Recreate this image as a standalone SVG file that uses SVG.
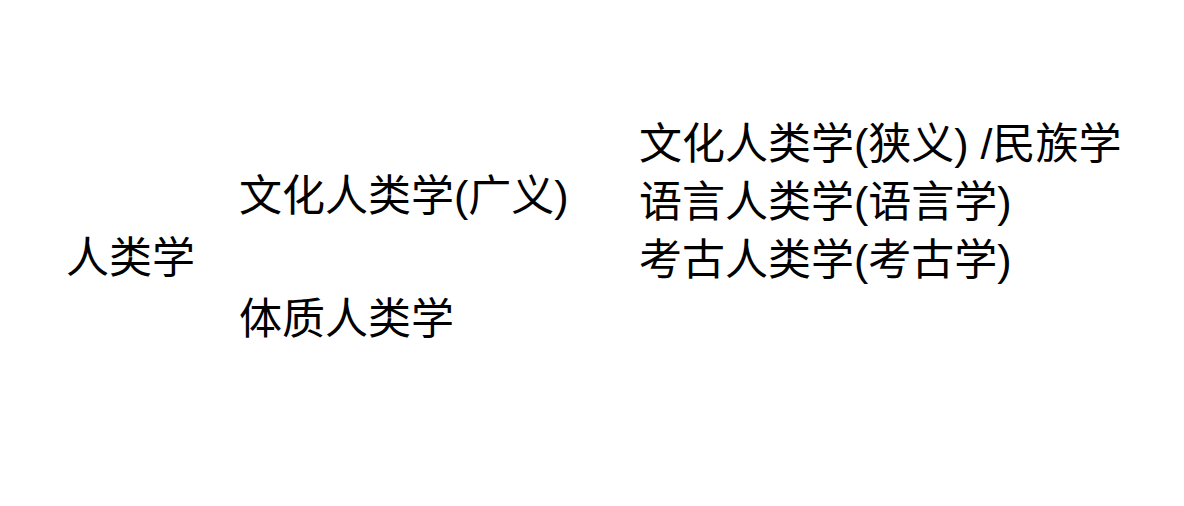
<svg xmlns="http://www.w3.org/2000/svg" width="1184" height="506" viewBox="0 0 1184 506">
<style>
.t{font-family:"Liberation Sans","Noto Sans CJK SC",sans-serif;font-size:43px;fill:#000}
</style>
<rect width="1184" height="506" fill="#fff"/>
<g id="connectors"/>
<g id="n-root"><text class="t" x="66" y="273">人类学</text></g>
<g id="n-culture"><text class="t" x="239" y="211">文化人类学(广义)</text></g>
<g id="n-physical"><text class="t" x="239" y="334">体质人类学</text></g>
<g id="n-ethno"><text class="t" x="639" y="159">文化人类学(狭义) /民族学</text></g>
<g id="n-ling"><text class="t" x="639" y="217">语言人类学(语言学)</text></g>
<g id="n-arch"><text class="t" x="639" y="275">考古人类学(考古学)</text></g>
</svg>
